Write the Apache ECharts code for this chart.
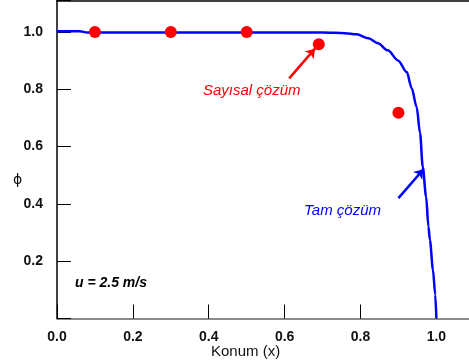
<!DOCTYPE html>
<html>
<head>
<meta charset="utf-8">
<script src="https://cdn.jsdelivr.net/npm/echarts@6/dist/echarts.min.js"></script>
<style>
  html, body { margin: 0; padding: 0; background: #fff; }
  #chart { width: 469px; height: 364px; }
</style>
</head>
<body>
<div id="chart"></div>
<script>
// tam çözüm (exact solution)
const exactX = [0, 0.06, 0.08, 0.2, 0.4, 0.6, 0.7, 0.759, 0.79, 0.821, 0.846, 0.872, 0.899, 0.922, 0.935, 0.948, 0.957, 0.964, 0.973, 0.979, 0.983, 0.991, 0.997, 1.0]
const exactY = [1.003, 1.003, 0.998, 0.998, 0.998, 0.998, 0.998, 0.996, 0.992, 0.978, 0.961, 0.936, 0.901, 0.860, 0.804, 0.738, 0.647, 0.530, 0.425, 0.321, 0.274, 0.170, 0.083, 0.0]
// sayısal çözüm (numerical solution)
const numX = [0.1, 0.3, 0.5, 0.69, 0.9]
const numY = [1.0, 1.0, 1.0, 0.957, 0.718]
// arrows: [x0, y0, x1, y1]
const redArrow = [0.612, 0.838, 0.680, 0.942]
const blueArrow = [0.900, 0.420, 0.966, 0.521]
const xTicks = [0.0, 0.2, 0.4, 0.6, 0.8, 1.0]
const yTicks = [0.2, 0.4, 0.6, 0.8, 1.0]

const chart = echarts.init(document.getElementById('chart'))
const font = 'Liberation Sans, Arial, sans-serif'

chart.setOption({
  animation: false,
  grid: { left: 57, right: 0, top: 0.5, bottom: 45.5, outerBoundsMode: 'none' },
  xAxis: [
    {
      type: 'value', min: 0, max: 1.086, interval: 0.2,
      axisLine: { show: true, lineStyle: { color: '#666', width: 1.5 } },
      axisTick: { show: true, inside: true, length: 14, lineStyle: { color: '#000' } },
      splitLine: { show: false },
      axisLabel: {
        margin: 12, color: '#111', fontFamily: font, fontWeight: 'bold', fontSize: 14,
        formatter: v => xTicks.some(t => Math.abs(t - v) < 1e-6) ? v.toFixed(1) : ''
      }
    },
    {
      type: 'value', position: 'top', min: 0, max: 1.086,
      axisLine: { show: true, lineStyle: { color: '#000', width: 1.5 } },
      axisTick: { show: false }, axisLabel: { show: false }, splitLine: { show: false }
    }
  ],
  yAxis: {
    type: 'value', min: 0, max: 1.11, interval: 0.2,
    axisLine: { show: true, lineStyle: { color: '#000', width: 1.5 } },
    axisTick: { show: true, inside: true, length: 14, lineStyle: { color: '#000' } },
    splitLine: { show: false },
    axisLabel: {
      margin: 14, color: '#111', fontFamily: font, fontWeight: 'bold', fontSize: 14,
      formatter: v => yTicks.some(t => Math.abs(t - v) < 1e-6) ? v.toFixed(1) : ''
    }
  },
  graphic: [
    { type: 'text', left: 211, top: 344, style: { text: 'Konum (x)', font: '15px ' + font, fill: '#111' } },
    { type: 'text', left: 13, top: 173, style: { text: 'ϕ', font: '14px DejaVu Sans', fill: '#111' } },
    { type: 'text', left: 75, top: 276, style: { text: 'u = 2.5 m/s', font: 'italic bold 14px ' + font, fill: '#000' } },
    { type: 'text', left: 203, top: 83, style: { text: 'Sayısal çözüm', font: 'italic 15px ' + font, fill: '#ff0000' } },
    { type: 'text', left: 304, top: 203, style: { text: 'Tam çözüm', font: 'italic 15px ' + font, fill: '#0000ff' } }
  ],
  series: [
    {
      type: 'line',
      data: exactX.map((x, i) => [x, exactY[i]]),
      showSymbol: false,
      smooth: 0.3,
      smoothMonotone: 'x',
      lineStyle: { color: '#0000ff', width: 2.5 },
      z: 2
    },
    {
      type: 'scatter',
      data: numX.map((x, i) => [x, numY[i]]),
      symbolSize: 12,
      itemStyle: { color: '#ff0000', opacity: 1 },
      z: 3
    },
    {
      type: 'lines',
      coordinateSystem: 'cartesian2d',
      symbol: ['none', 'arrow'],
      symbolSize: 9,
      data: [
        { coords: [[redArrow[0], redArrow[1]], [redArrow[2], redArrow[3]]], lineStyle: { color: '#ff0000' } },
        { coords: [[blueArrow[0], blueArrow[1]], [blueArrow[2], blueArrow[3]]], lineStyle: { color: '#0000ff' } }
      ],
      lineStyle: { width: 2.5, opacity: 1 },
      z: 4
    }
  ]
})
</script>
</body>
</html>
